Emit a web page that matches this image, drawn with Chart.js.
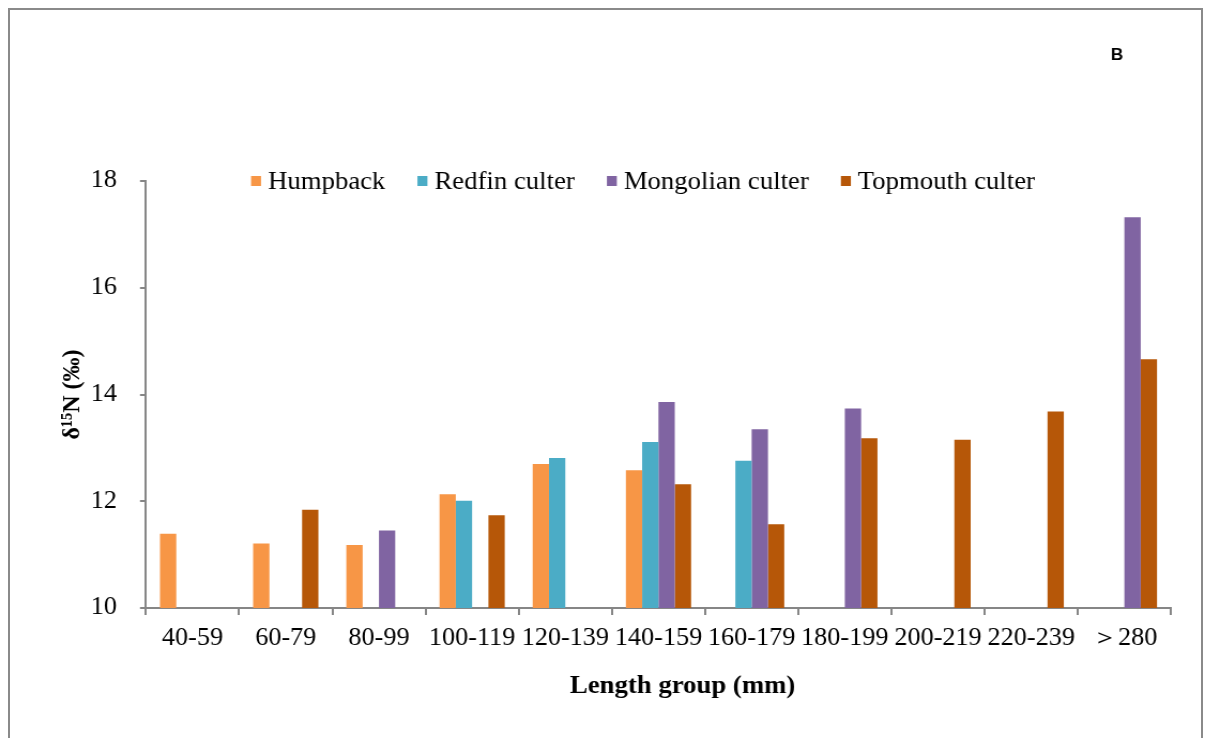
<!DOCTYPE html>
<html>
<head>
<meta charset="utf-8">
<script src="https://cdn.jsdelivr.net/npm/chart.js@4.4.1/dist/chart.umd.min.js"></script>
<style>
  html, body { margin: 0; padding: 0; background: #fff; overflow: hidden; }
  body { width: 1205px; height: 738px; position: relative; }
  #frame {
    position: absolute; left: 8px; top: 8px; width: 1195px; height: 760px;
    border: 2px solid #8a8a8a; box-sizing: border-box;
  }
  /* the chart is laid out on a slightly narrower canvas and widened, giving the broad lettering */
  #stage {
    position: absolute; left: 0; top: 0; width: 1126px; height: 738px;
    transform: scaleX(1.07016); transform-origin: 0 0;
  }
</style>
</head>
<body>
<div id="frame"></div>
<div id="stage"><canvas id="c" width="1126" height="738"></canvas></div>
<script>
const categories = ['40-59', '60-79', '80-99', '100-119', '120-139', '140-159', '160-179', '180-199', '200-219', '220-239', '＞280'];
const humpback  = [11.39, 11.21, 11.18, 12.13, 12.70, 12.58, null, null, null, null, null];
const redfin    = [null, null, null, 12.01, 12.81, 13.11, 12.76, null, null, null, null];
const mongolian = [null, null, 11.45, null, null, 13.86, 13.35, 13.74, null, null, 17.32];
const topmouth  = [null, 11.84, null, 11.74, null, 12.32, 11.57, 13.18, 13.15, 13.68, 14.66];
const seriesNames = ['Humpback', 'Redfin culter', 'Mongolian culter', 'Topmouth culter'];
const seriesColors = ['#F79646', '#4BACC6', '#8064A2', '#B65708'];
const yTicks = [10, 12, 14, 16, 18];
const xTitle = 'Length group (mm)';

const SERIF = '"Liberation Serif", "Times New Roman", serif';
const AXIS = '#868686';

// legend row, x-axis caption and panel letter, drawn over the plot
const overlay = {
  id: 'overlay',
  afterDraw(chart) {
    const ctx = chart.ctx;
    ctx.save();
    ctx.font = '25px ' + SERIF;
    ctx.textBaseline = 'middle';
    ctx.textAlign = 'left';
    const y = 181;
    let x = 234.6;
    chart.data.datasets.forEach(ds => {
      ctx.fillStyle = ds.backgroundColor;
      ctx.fillRect(x, y - 5, 9.3, 10);
      x += 9.3 + 6.5;
      ctx.fillStyle = '#000';
      ctx.fillText(ds.label, x, y + 1);
      x += ctx.measureText(ds.label).width + 30;
    });
    ctx.font = 'bold 25px ' + SERIF;
    ctx.textAlign = 'center';
    ctx.fillText(xTitle, 637.8, 687);
    ctx.font = 'bold 16px "Liberation Sans", Arial, sans-serif';
    ctx.fillText('B', 1043.8, 56);
    ctx.restore();
  }
};

new Chart(document.getElementById('c'), {
  type: 'bar',
  data: {
    labels: categories,
    datasets: [humpback, redfin, mongolian, topmouth].map((d, i) => ({
      label: seriesNames[i],
      data: d,
      backgroundColor: seriesColors[i],
      borderWidth: 0,
      categoryPercentage: 0.7,
      barPercentage: 1.0
    }))
  },
  options: {
    responsive: false,
    animation: false,
    layout: { padding: { left: 0, right: 31.8, top: 181, bottom: 0 } },
    plugins: { legend: { display: false }, tooltip: { enabled: false } },
    scales: {
      x: {
        afterFit: s => { s.height = 130; },
        grid: { display: true, drawOnChartArea: false, drawTicks: true, tickLength: 7, color: AXIS, lineWidth: 2 },
        border: { display: true, color: AXIS, width: 2 },
        ticks: { color: '#000', font: { family: SERIF, size: 24.5 }, padding: 9, autoSkip: false, maxRotation: 0, minRotation: 0 },
        title: { display: false }
      },
      y: {
        min: 10, max: 18,
        afterFit: s => { s.width = 136.4; },
        afterBuildTicks: s => { s.ticks = yTicks.map(v => ({ value: v })); },
        grid: { display: true, drawOnChartArea: false, drawTicks: true, tickLength: 5.6, color: AXIS, lineWidth: 2 },
        border: { display: true, color: AXIS, width: 2 },
        ticks: { color: '#000', font: { family: SERIF, size: 24.5 }, padding: 21.5 },
        title: { display: true, text: 'δ¹⁵N (‰)', color: '#000', font: { family: SERIF, size: 24, weight: 'bold' }, padding: { top: 53.8, bottom: 0 } }
      }
    }
  },
  plugins: [overlay]
});
</script>
</body>
</html>
